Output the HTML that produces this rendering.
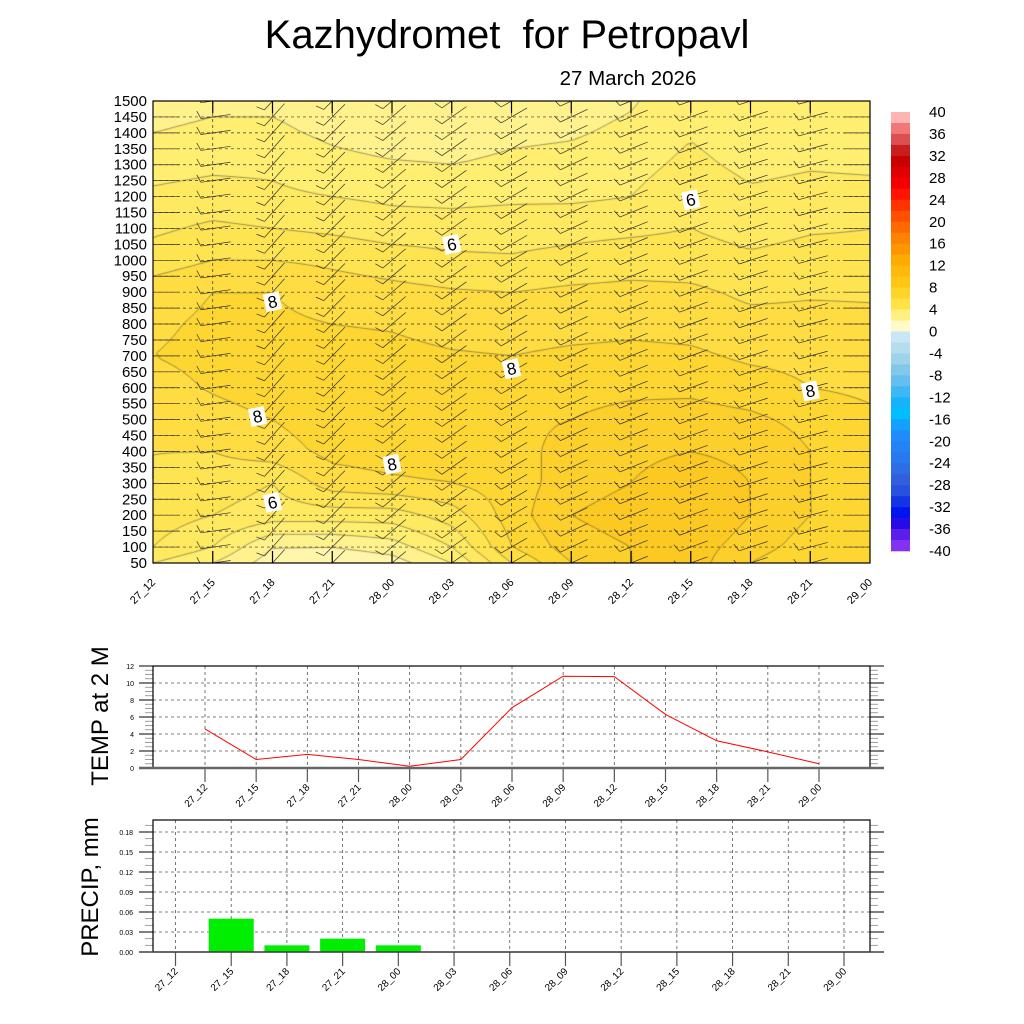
<!DOCTYPE html>
<html><head><meta charset="utf-8">
<style>
html,body{margin:0;padding:0;background:#fff;}
#wrap{position:relative;width:1024px;height:1024px;overflow:hidden;font-family:"Liberation Sans",sans-serif;}
canvas,svg{position:absolute;left:0;top:0;}
</style></head>
<body>
<div id="wrap">
<canvas id="field" width="1024" height="1024"></canvas>
<svg id="svg" width="1024" height="1024" xmlns="http://www.w3.org/2000/svg">
<defs><clipPath id="mainclip"><rect x="153" y="101" width="717" height="462"/></clipPath></defs>
<text x="507" y="48" font-size="40" text-anchor="middle" font-family="Liberation Sans" xml:space="preserve">Kazhydromet&#160; for Petropavl</text>
<text x="628" y="85" font-size="20.5" text-anchor="middle" font-family="Liberation Sans">27 March 2026</text>
<text transform="translate(108,716) rotate(-90)" font-size="24" text-anchor="middle" font-family="Liberation Sans">TEMP at 2 M</text>
<text transform="translate(98,887) rotate(-90)" font-size="24" text-anchor="middle" font-family="Liberation Sans">PRECIP, mm</text>
</svg>
</div>
<script>
const timeLabels=["27_12","27_15","27_18","27_21","28_00","28_03","28_06","28_09","28_12","28_15","28_18","28_21","29_00"];
const heights=[50,100,200,300,400,500,600,700,800,900,1000,1100,1200,1300,1400,1500];
const T50=[5,4,2.5,2,2.5,4,7,9,10,10.5,9,8,8];
const T100=[6,5,3,3,3.5,5,8,9.5,10,10.5,9.5,8.5,8];
const T200=[6.5,6,5.5,5.5,5.5,6.5,8.5,10,10.5,11,10,9,8.5];
const T300=[7,6.5,6,7.5,7.8,8,8.5,9.5,10,10.5,10,9,8.2];
const T400=[7,7,7.5,8.3,8.5,8.6,8.8,9.2,9.8,10,9.8,9,8.3];
const T500=[7.3,7.6,8,8.6,8.8,8.8,8.9,9,9.3,9.4,9.2,8.7,8.2];
const T600=[7.6,8.1,8.5,8.8,8.8,8.7,8.6,8.7,8.8,8.8,8.5,8,7.8];
const T700=[8,8.3,8.5,8.4,8.3,8.1,8,8.2,8.3,8.2,7.8,7.7,7.6];
const T800=[7.8,8.2,8.2,8,7.9,7.6,7.5,7.6,7.7,7.6,7.3,7.3,7.2];
const T900=[7.5,8,8,7.5,7.3,7.1,7,7.2,7.3,7.2,6.8,6.9,6.9];
const T1000=[6.5,7,7,6.8,6.5,6.2,6.1,6.3,6.5,6.5,6.2,6.4,6.3];
const T1100=[5.8,6.2,6,5.8,5.5,5.5,5.6,5.7,5.8,6,5.6,5.9,6];
const T1200=[5.2,5.4,5.2,5,4.8,4.7,4.8,4.8,5,5.8,5.2,5.4,5.4];
const T1300=[4.6,4.8,4.8,4.3,4.1,4.0,4.2,4.3,4.6,5.3,4.7,4.9,4.8];
const T1400=[4,4.2,4.2,3.8,3.5,3.5,3.8,3.9,4.2,4.9,4.3,4.4,4.3];
const T1500=[3.6,3.8,3.8,3.5,3.2,3.2,3.5,3.6,3.9,4.6,4,4,4];
const windDir=[0,8,48,45,40,35,30,25,22,20,18,15,0];
const tempValues=[4.6,1.0,1.6,1.0,0.2,1.0,7.1,10.8,10.75,6.3,3.2,1.9,0.5];
const tempTicks=[0,2,4,6,8,10,12];
const precipValues=[0,0.05,0.01,0.02,0.01,0,0,0,0,0,0,0,0];
const precipTicks=[0,0.03,0.06,0.09,0.12,0.15,0.18];
const cbLabels=[40,36,32,28,24,20,16,12,8,4,0,-4,-8,-12,-16,-20,-24,-28,-32,-36,-40];
const contourLabelIdx=[2,1.75,5,9,6,11,4,2];
const contourLabelH=[870,510,1050,1190,660,590,360,240];
const contourLabelVal=[8,8,6,6,8,8,8,6];

const T=[T50,T100,T200,T300,T400,T500,T600,T700,T800,T900,T1000,T1100,T1200,T1300,T1400,T1500];
const svg=document.getElementById('svg');
const NS='http://www.w3.org/2000/svg';
function mk(tag,attrs,parent){const e=document.createElementNS(NS,tag);for(const k in attrs)e.setAttribute(k,attrs[k]);(parent||svg).appendChild(e);return e;}
const MX0=153,MX1=870,MY0=101,MY1=563;
const xMain=i=>MX0+i*(MX1-MX0)/(timeLabels.length-1);
const yMain=h=>MY1-(h-50)/(1450)*(MY1-MY0);
function tAt(i,h){
  let k=0;while(k<heights.length-2&&h>heights[k+1])k++;
  const f=(h-heights[k])/(heights[k+1]-heights[k]);
  return T[k][i]*(1-f)+T[k+1][i]*f;
}
function tXY(px,py){
  const fi=(px-MX0)/(MX1-MX0)*(timeLabels.length-1);
  let i=Math.min(Math.floor(fi),timeLabels.length-2);if(i<0)i=0;
  const f=fi-i;const h=50+(MY1-py)/(MY1-MY0)*1450;
  return tAt(i,h)*(1-f)+tAt(i+1,h)*f;
}
const anchors=[[0,[255,250,205]],[2,[255,246,170]],[4,[255,238,112]],[6,[255,228,82]],[8,[254,214,50]],[10,[252,200,34]],[12,[250,184,20]],[16,[255,140,0]]];
function col(v){
  v=Math.floor(v);
  for(let a=0;a<anchors.length-1;a++){if(v<anchors[a+1][0]||a==anchors.length-2){const f=Math.max(0,Math.min(1,(v-anchors[a][0])/(anchors[a+1][0]-anchors[a][0])));const c=anchors[a][1].map((x,j)=>Math.round(x+(anchors[a+1][1][j]-x)*f));return 'rgb('+c.join(',')+')';}}
}
const cv=document.getElementById('field').getContext('2d');
const S=3;
for(let px=MX0;px<MX1;px+=S)for(let py=MY0;py<MY1;py+=S){cv.fillStyle=col(tXY(px+S/2,py+S/2));cv.fillRect(px,py,S,S);}
cv.strokeStyle='rgba(50,50,50,0.8)';cv.lineWidth=0.6;
const G=6;
for(let lev=3;lev<=11;lev++){
  cv.beginPath();
  for(let px=MX0;px<MX1-0.1;px+=G)for(let py=MY0;py<MY1-0.1;py+=G){
    const x1=Math.min(px+G,MX1),y1=Math.min(py+G,MY1);
    const a=tXY(px,py),b=tXY(x1,py),c=tXY(x1,y1),d=tXY(px,y1);
    const pts=[];
    const e=(va,vb,xa,ya,xb,yb)=>{if((va<lev)!=(vb<lev)){const f=(lev-va)/(vb-va);pts.push([xa+(xb-xa)*f,ya+(yb-ya)*f]);}};
    e(a,b,px,py,x1,py);e(b,c,x1,py,x1,y1);e(c,d,x1,y1,px,y1);e(d,a,px,y1,px,py);
    for(let k=0;k+1<pts.length;k+=2){cv.moveTo(pts[k][0],pts[k][1]);cv.lineTo(pts[k+1][0],pts[k+1][1]);}
  }
  cv.stroke();
}
const gMain=mk('g',{});

for(let h=100;h<1500;h+=50){mk('line',{x1:MX0,x2:MX1,y1:yMain(h),y2:yMain(h),stroke:'#333','stroke-width':0.7,'stroke-dasharray':'3,3'},gMain);}
for(let i=1;i<timeLabels.length-1;i++){mk('line',{x1:xMain(i),x2:xMain(i),y1:MY0,y2:MY1,stroke:'#333','stroke-width':0.7,'stroke-dasharray':'3,3'},gMain);
 mk('line',{x1:xMain(i),x2:xMain(i),y1:MY0,y2:MY0+12,stroke:'#000','stroke-width':1.2},gMain);
 mk('line',{x1:xMain(i),x2:xMain(i),y1:MY1-12,y2:MY1,stroke:'#000','stroke-width':1.2},gMain);}
const gB=mk('g',{stroke:'#333','stroke-width':0.7,fill:'none','clip-path':'url(#mainclip)'});

for(let i=0;i<timeLabels.length;i++){
  for(let h=50;h<=1500;h+=50){
    const a=windDir[i]*Math.PI/180;const L=30;
    const x0=xMain(i),y0=yMain(h);
    const dx=Math.cos(a),dy=-Math.sin(a);
    let bx,by;
    if(i==0){bx=x0;by=y0;}
    else if(i==timeLabels.length-1){bx=x0-26;by=y0;}
    else{bx=x0-dx*L*0.4;by=y0-dy*L*0.4;}
    const len=(i==0||i==timeLabels.length-1)?26:L;
    mk('line',{x1:bx,y1:by,x2:bx+dx*len,y2:by+dy*len},gB);
    if(i>0&&i<timeLabels.length-1){
      const nx=dy,ny=-dx;
      mk('line',{x1:bx,y1:by,x2:bx+nx*8-dx*3,y2:by+ny*8-dy*3},gB);
    }
  }
}
contourLabelIdx.forEach((ci,k)=>{
  const g=mk('g',{transform:'translate('+xMain(ci)+','+yMain(contourLabelH[k])+') rotate(-12)'});
  
  mk('rect',{x:-8,y:-9,width:16,height:18,fill:'#fff'},g);
  const t=mk('text',{x:0,y:6,'font-size':17,'text-anchor':'middle','font-family':'Liberation Sans'},g);t.textContent=contourLabelVal[k];
});
mk('rect',{x:MX0,y:MY0,width:MX1-MX0,height:MY1-MY0,fill:'none',stroke:'#000','stroke-width':1.2});
for(let h=50;h<=1500;h+=50){const t=mk('text',{x:147,y:yMain(h)+5,'font-size':15,'text-anchor':'end','font-family':'Liberation Sans'});t.textContent=h;
 }
timeLabels.forEach((s,i)=>{const t=mk('text',{transform:'translate('+(xMain(i)+3)+','+(MY1+20)+') rotate(-45)','font-size':11,'text-anchor':'end','font-family':'Liberation Sans'});t.textContent=s;
 });
const cbC=[[255,180,180],[240,120,120],[220,80,80],[200,30,30],[200,0,0],[225,0,0],[245,0,0],[255,20,0],[255,50,0],[255,80,0],[255,105,0],[255,130,0],[255,150,0],[255,170,0],[255,185,10],[255,198,20],[255,212,40],[255,226,70],[255,240,130],[255,250,200],
[200,230,245],[180,222,240],[160,210,235],[130,200,235],[100,190,240],[60,185,245],[20,180,250],[0,190,255],[20,160,255],[30,140,250],[35,130,245],[40,120,240],[45,110,230],[50,95,220],[40,80,225],[20,50,230],[0,20,240],[40,10,230],[90,30,235],[130,50,240]];
const gc=mk('g',{});
const CB0=112,CB1=551,CBh=(CB1-CB0)/40;
for(let k=0;k<40;k++){const c=cbC[Math.min(k,cbC.length-1)];mk('rect',{x:891,y:CB0+k*CBh,width:19,height:CBh+0.3,fill:'rgb('+c.join(',')+')'},gc);}
cbLabels.forEach((v,k)=>{const t=mk('text',{x:929,y:CB0+k*CBh*2+5,'font-size':15,'font-family':'Liberation Sans'},gc);t.textContent=v;});
const TX0=153,TX1=870,TY0=666,TY1=768;
const xT=i=>205+i*(819-205)/12;
const yT=v=>TY1-v/12*(TY1-TY0);
const gT=mk('g',{});
tempTicks.forEach(v=>{if(v>0&&v<12)mk('line',{x1:TX0,x2:TX1,y1:yT(v),y2:yT(v),stroke:'#555','stroke-width':0.8,'stroke-dasharray':'3,3'},gT);
 const t=mk('text',{x:134,y:yT(v)+3,'font-size':7,'text-anchor':'end','font-family':'Liberation Sans'},gT);t.textContent=v;
 mk('line',{x1:TX0-14,x2:TX0,y1:yT(v),y2:yT(v),stroke:'#000','stroke-width':1},gT);mk('line',{x1:TX1,x2:TX1+14,y1:yT(v),y2:yT(v),stroke:'#000','stroke-width':1},gT);});
for(let v=0.5;v<12;v+=0.5){if(v%2)mk('line',{x1:TX0-8,x2:TX0,y1:yT(v),y2:yT(v),stroke:'#888','stroke-width':0.8},gT),mk('line',{x1:TX1,x2:TX1+8,y1:yT(v),y2:yT(v),stroke:'#888','stroke-width':0.8},gT);}
timeLabels.forEach((s,i)=>{mk('line',{x1:xT(i),x2:xT(i),y1:TY0,y2:TY1,stroke:'#555','stroke-width':0.8,'stroke-dasharray':'3,3'},gT);
 mk('line',{x1:xT(i),x2:xT(i),y1:TY1,y2:TY1+14,stroke:'#555','stroke-width':1.2},gT);
 const t=mk('text',{transform:'translate('+(xT(i)+3)+','+(TY1+20)+') rotate(-45)','font-size':10,'text-anchor':'end','font-family':'Liberation Sans'},gT);t.textContent=s;});
mk('rect',{x:TX0,y:TY0,width:TX1-TX0,height:TY1-TY0,fill:'none',stroke:'#000','stroke-width':1.2},gT);
mk('line',{x1:TX0-14,x2:TX1+14,y1:TY1,y2:TY1,stroke:'#666','stroke-width':2.5},gT);
const tl=mk('polyline',{points:tempValues.map((v,i)=>xT(i)+','+yT(v)).join(' '),fill:'none',stroke:'#f00','stroke-width':1});

const PX0=153,PX1=870,PY0=820,PY1=952;
const xP=i=>175.5+i*(844-175.5)/12;
const yP=v=>PY1-v/0.18*(952-832);
const gP=mk('g',{});
precipTicks.forEach(v=>{if(v>0)mk('line',{x1:PX0,x2:PX1,y1:yP(v),y2:yP(v),stroke:'#555','stroke-width':0.8,'stroke-dasharray':'3,3'},gP);
 const t=mk('text',{x:133,y:yP(v)+3,'font-size':7,'text-anchor':'end','font-family':'Liberation Sans'},gP);t.textContent=v.toFixed(2);
 mk('line',{x1:PX0-14,x2:PX0,y1:yP(v),y2:yP(v),stroke:'#000','stroke-width':1},gP);mk('line',{x1:PX1,x2:PX1+14,y1:yP(v),y2:yP(v),stroke:'#000','stroke-width':1},gP);});
for(let v=0.01;v<0.2;v+=0.01){if(Math.round(v*100)%3)mk('line',{x1:PX0-8,x2:PX0,y1:yP(v),y2:yP(v),stroke:'#888','stroke-width':0.8},gP),mk('line',{x1:PX1,x2:PX1+8,y1:yP(v),y2:yP(v),stroke:'#888','stroke-width':0.8},gP);}
timeLabels.forEach((s,i)=>{mk('line',{x1:xP(i),x2:xP(i),y1:PY0,y2:PY1,stroke:'#555','stroke-width':0.8,'stroke-dasharray':'3,3'},gP);
 mk('line',{x1:xP(i),x2:xP(i),y1:PY1,y2:PY1+14,stroke:'#555','stroke-width':1.2},gP);
 const t=mk('text',{transform:'translate('+(xP(i)+3)+','+(PY1+20)+') rotate(-45)','font-size':10,'text-anchor':'end','font-family':'Liberation Sans'},gP);t.textContent=s;});
precipValues.forEach((v,i)=>{if(v>0){const r=mk('rect',{x:xP(i)-22.5,y:yP(v),width:45,height:PY1-yP(v),fill:'#00ee00'},gP);
 }});
mk('rect',{x:PX0,y:PY0,width:PX1-PX0,height:PY1-PY0,fill:'none',stroke:'#000','stroke-width':1.2},gP);
mk('line',{x1:PX0-14,x2:PX1+14,y1:PY1,y2:PY1,stroke:'#444','stroke-width':1.5},gP);
</script>
</body></html>
